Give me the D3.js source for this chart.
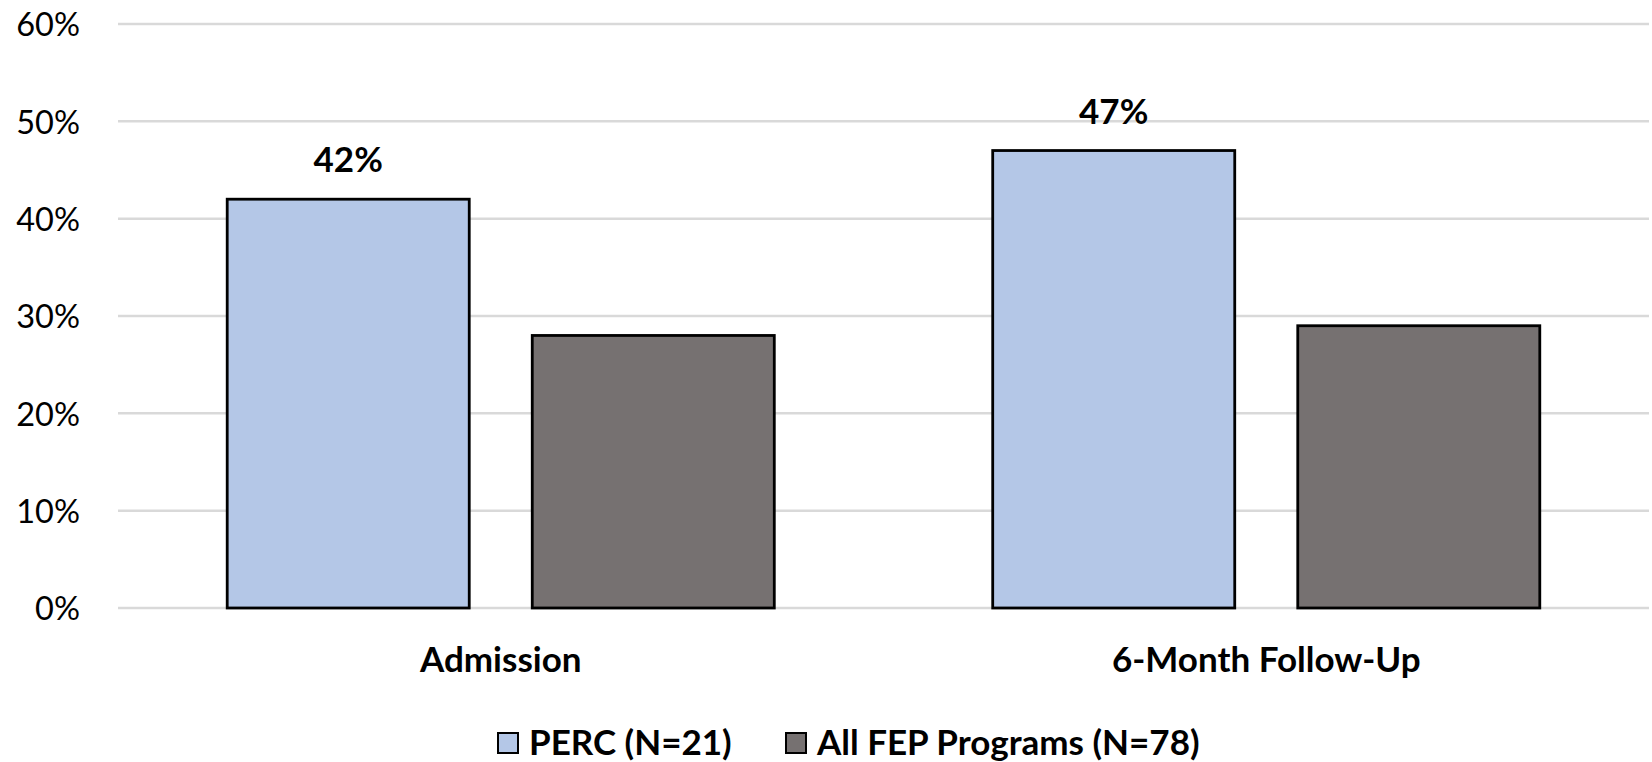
<!DOCTYPE html>
<html><head><meta charset="utf-8">
<script src="https://cdn.jsdelivr.net/npm/d3@7"></script>
<style>
html,body{margin:0;padding:0;background:#fff;}
svg text{font-family:"Lato","Open Sans",sans-serif;fill:#000;}
</style></head>
<body><svg id="c" width="1652" height="762"></svg>
<script>
const categories = ["Admission", "6-Month Follow-Up"];
const seriesNames = ["PERC (N=21)", "All FEP Programs (N=78)"];
const percValues = [42, 47];
const fepValues = [28, 29];
const yTicks = [0, 10, 20, 30, 40, 50, 60];
const colors = ["#B4C7E7", "#767171"];

(function () {
const svg = d3.select("#c");
const plotLeft = 118, plotRight = 1649, plotTop = 24, plotBottom = 608;

const y = d3.scaleLinear().domain([0, 60]).range([plotBottom, plotTop]);
const x0 = d3.scaleBand().domain(categories).range([plotLeft, plotRight]).padding(0);
const x1 = d3.scaleBand().domain(seriesNames).range([0, x0.bandwidth()])
  .paddingInner(0.2066).paddingOuter(0.358);

const data = categories.map((c, i) => ({
  cat: c,
  vals: [
    {s: seriesNames[0], v: percValues[i], label: true},
    {s: seriesNames[1], v: fepValues[i], label: false}
  ]
}));

// gridlines
svg.append("g").selectAll("line").data(yTicks).join("line")
  .attr("x1", plotLeft).attr("x2", plotRight)
  .attr("y1", d => y(d)).attr("y2", d => y(d))
  .attr("stroke", "#D9D9D9").attr("stroke-width", 2.5);

// y axis labels
const yAxis = d3.axisLeft(y).tickValues(yTicks).tickFormat(d => d + "%").tickSize(0).tickPadding(0);
const ga = svg.append("g").attr("transform", `translate(80,0)`).call(yAxis);
ga.select(".domain").remove();
ga.selectAll("text").attr("font-size", 32.5).attr("font-family", "Lato").attr("fill", "#000")
  .attr("dy", "0.36em");

// bars
const groups = svg.append("g").selectAll("g").data(data).join("g")
  .attr("transform", d => `translate(${x0(d.cat)},0)`);
groups.selectAll("rect").data(d => d.vals).join("rect")
  .attr("x", d => x1(d.s)).attr("width", x1.bandwidth())
  .attr("y", d => y(d.v)).attr("height", d => y(0) - y(d.v))
  .attr("fill", (d, i) => colors[i]).attr("stroke", "#000").attr("stroke-width", 2.8);

groups.selectAll("text.lbl").data(d => d.vals.filter(v => v.label)).join("text")
  .attr("class", "lbl")
  .attr("x", d => x1(d.s) + x1.bandwidth() / 2)
  .attr("y", d => y(d.v) - 27)
  .attr("text-anchor", "middle").attr("font-size", 35).attr("font-weight", "bold")
  .text(d => d.v + "%");

// category labels
const xAxis = d3.axisBottom(x0).tickSize(0).tickPadding(0);
const gx = svg.append("g").attr("transform", `translate(0,${plotBottom})`).call(xAxis);
gx.select(".domain").remove();
gx.selectAll("text").attr("font-size", 35).attr("font-weight", "bold").attr("font-family", "Lato")
  .attr("fill", "#000").attr("dy", null).attr("y", 64);

// legend
const legendX = [498, 786];
const lg = svg.append("g").selectAll("g").data(seriesNames).join("g")
  .attr("transform", (d, i) => `translate(${legendX[i]},733)`);
lg.append("rect").attr("width", 20).attr("height", 20)
  .attr("fill", (d, i) => colors[i]).attr("stroke", "#000").attr("stroke-width", 2);
lg.append("text").attr("x", 31).attr("y", 22).attr("font-size", 35).attr("font-weight", "bold")
  .text(d => d);
})();
</script></body></html>
